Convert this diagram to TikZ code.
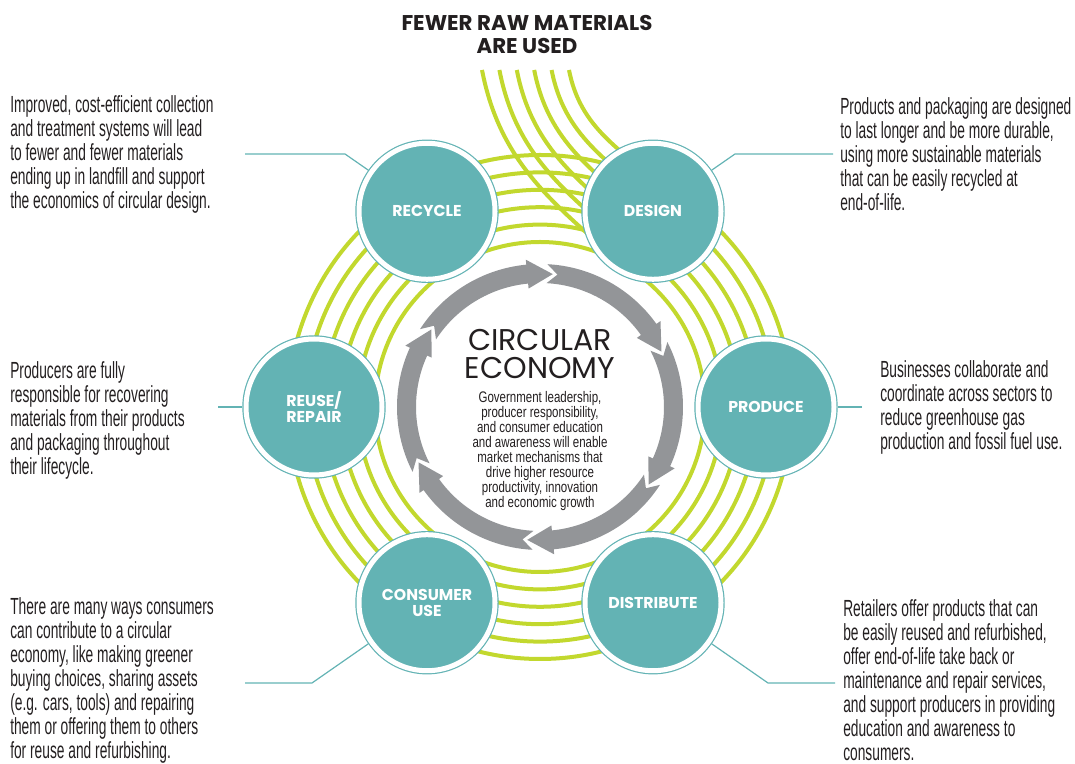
\documentclass[tikz,border=0pt]{standalone}
\usepackage{fontspec}
\setmainfont{Liberation Sans}
\newfontfamily\bodyfont[FakeStretch=0.59]{Liberation Sans}
\newfontfamily\notefont[FakeStretch=0.75]{Liberation Sans}
\newfontfamily\geofont{Poppins}
\usetikzlibrary{positioning, calc}
\definecolor{stageteal}{HTML}{63B3B4}
\definecolor{ringgreen}{HTML}{C2D82E}
\definecolor{loopgrey}{HTML}{939598}
\definecolor{inkdark}{HTML}{231F20}
\tikzstyle{stage} = [circle, fill=stageteal, draw=stageteal, double=white, double distance=3.75pt, line width=0.9pt, minimum size=102pt, inner sep=0pt, outer sep=2.8pt, text=white, align=center, font=\geofont\bfseries\fontsize{11.8pt}{12pt}\selectfont]
\tikzstyle{ring} = [draw=ringgreen, line width=3pt]
\tikzstyle{loopseg} = [fill=loopgrey]
\tikzstyle{blurb} = [inner sep=0pt, align=left, text=inkdark, font=\bodyfont\fontsize{17.5pt}{18pt}\selectfont]
\tikzstyle{leader} = [draw=stageteal, line width=0.9pt]

\begin{document}
\begin{tikzpicture}[x=0.75pt, y=0.75pt]
	\useasboundingbox (0,0) rectangle (1075,764);
	\coordinate (centre) at (540,357);
	\foreach \k [evaluate=\k as \r using 165+17.4*\k] in {0,...,5}{
		\draw[ring] (centre) circle[radius=\r];
		\draw[ring] ({482+17.4*\k},694) to[out=-79, in=139] ($(centre)+(60:\r)$);
	}
	\node[stage] (recycle) at ($(centre)+(120:226)$) {RECYCLE};
	\node[stage] (design) at ($(centre)+(60:226)$) {DESIGN};
	\node[stage] (produce) at ($(centre)+(0:226)$) {PRODUCE};
	\node[stage] (distribute) at ($(centre)+(-60:226)$) {DISTRIBUTE};
	\node[stage] (consumer) at ($(centre)+(-120:226)$) {CONSUMER\\USE};
	\node[stage] (reuse) at ($(centre)+(180:226)$) {REUSE/\\REPAIR};
	\foreach \p in {84.5,24.5,-35.5,-95.5,-155.5,-215.5}
		\fill[loopseg, shift={(centre)}] ({\p+62.5}:143) arc[start angle={\p+62.5}, end angle={\p+11}, radius=143]
			-- ({\p+11}:148) -- (\p:133.5) -- ({\p+11}:119) -- ({\p+11}:124)
			arc[start angle={\p+11}, end angle={\p+62.5}, radius=124] -- ({\p+58}:133.5) -- cycle;
	\node[font=\geofont\bfseries\fontsize{16pt}{17.25pt}\selectfont, text=inkdark, align=center] (rawtitle) at (527,730) {FEWER RAW MATERIALS\\ARE USED};
	\node[font=\geofont\fontsize{22.5pt}{21pt}\selectfont, text=inkdark, align=center, inner sep=0pt] (circtitle) at (540,410) {CIRCULAR\\ECONOMY};
	\node[below=9pt of circtitle, font=\notefont\fontsize{11.5pt}{11.3pt}\selectfont, text=inkdark, align=center, inner sep=0pt] (circnote) {Government leadership,\\producer responsibility,\\and consumer education\\and awareness will enable\\market mechanisms that\\drive higher resource\\productivity, innovation\\and economic growth};
	\node[blurb, anchor=west] (recycletxt) at (10,610) {Improved, cost-efficient collection\\and treatment systems will lead\\to fewer and fewer materials\\ending up in landfill and support\\the economics of circular design.};
	\node[blurb, anchor=west] (designtxt) at (840,610) {Products and packaging are designed\\to last longer and be more durable,\\using more sustainable materials\\that can be easily recycled at\\end-of-life.};
	\node[blurb, anchor=west] (reusetxt) at (10,344) {Producers are fully\\responsible for recovering\\materials from their products\\and packaging throughout\\their lifecycle.};
	\node[blurb, anchor=west] (producetxt) at (880,357) {Businesses collaborate and\\coordinate across sectors to\\reduce greenhouse gas\\production and fossil fuel use.};
	\node[blurb, anchor=west] (consumertxt) at (10,84) {There are many ways consumers\\can contribute to a circular\\economy, like making greener\\buying choices, sharing assets\\(e.g. cars, tools) and repairing\\them or offering them to others\\for reuse and refurbishing.};
	\node[blurb, anchor=west] (distributetxt) at (843,84) {Retailers offer products that can\\be easily reused and refurbished,\\offer end-of-life take back or\\maintenance and repair services,\\and support producers in providing\\education and awareness to\\consumers.};
	\coordinate (recycleend) at (245,610);
	\coordinate (recyclebend) at (345,610);
	\coordinate (designend) at (833,610);
	\coordinate (designbend) at (735,610);
	\coordinate (reuseend) at (218,357);
	\coordinate (produceend) at (862,357);
	\coordinate (consumerend) at (245,81);
	\coordinate (consumerbend) at (312,81);
	\coordinate (distributeend) at (835,81);
	\coordinate (distributebend) at (768,81);
	\draw[leader] (recycleend) -- (recyclebend) -- (recycle.145);
	\draw[leader] (designend) -- (designbend) -- (design.35);
	\draw[leader] (reuseend) -- (reuse.west);
	\draw[leader] (produceend) -- (produce.east);
	\draw[leader] (consumerend) -- (consumerbend) -- (consumer.215);
	\draw[leader] (distributeend) -- (distributebend) -- (distribute.-35);
\end{tikzpicture}
\end{document}
